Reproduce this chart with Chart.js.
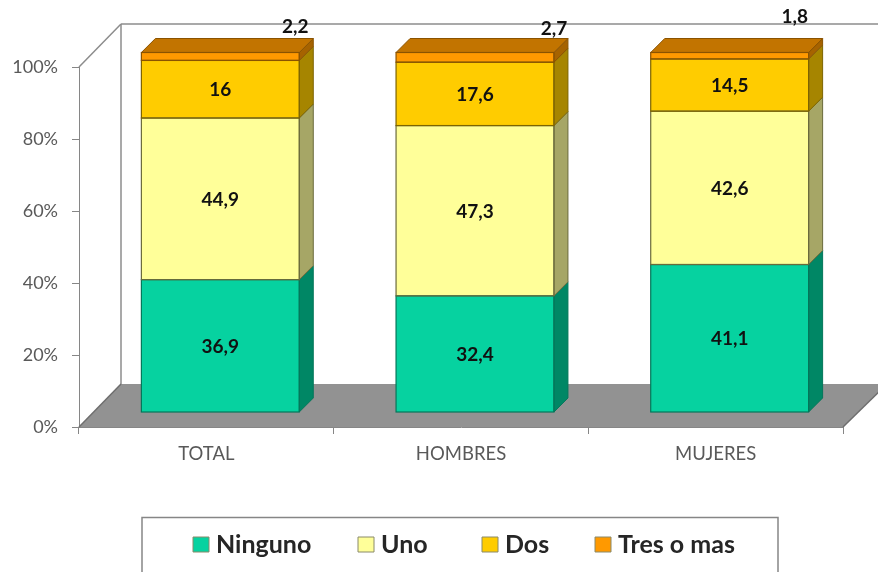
<!DOCTYPE html>
<html>
<head>
<meta charset="utf-8">
<style>
body { margin: 0; background: #fff; overflow: hidden; }
canvas { display: block; filter: blur(0.45px); }
</style>
<script src="https://cdn.jsdelivr.net/npm/chart.js@4/dist/chart.umd.js"></script>
</head>
<body>
<canvas id="canvasGrafico" width="878" height="572"></canvas>
<script>
var categorias = ['TOTAL', 'HOMBRES', 'MUJERES']
var ninguno = [36.9, 32.4, 41.1]
var uno = [44.9, 47.3, 42.6]
var dos = [16, 17.6, 14.5]
var tresOMas = [2.2, 2.7, 1.8]

var series = ['Ninguno', 'Uno', 'Dos', 'Tres o mas']
var coloresFrente = ['#06d2a0', '#ffff99', '#ffcc00', '#ff9900']
var coloresBorde = ['#04775a', '#6b6b3c', '#7d6400', '#8a5300']
var coloresLado = ['#008765', '#a6a666', '#a68500', '#a66300']
var colorTecho = '#c27400'
var colorPiso = '#929292'
var colorEje = '#868686'
var colorTexto = '#595959'
var fuente = 'Lato, Carlito, sans-serif'

// desplazamiento del plano de las barras y del fondo respecto al eje
var planoX = 14, planoY = -14.5
var fondoX = 42, fondoY = -43
var prof = 14

// la etiqueta de la serie de arriba queda fuera de la barra en el original
var topeDx = [75, 79, 65]
var topeDy = [-26, -24, -36]

var leyendaX = [193, 358, 482, 595]

function poligono(ctx, puntos, relleno, borde){
    ctx.beginPath()
    puntos.forEach(function(p, i){
        if(i == 0) ctx.moveTo(p[0], p[1])
        else ctx.lineTo(p[0], p[1])
    })
    ctx.closePath()
    ctx.fillStyle = relleno
    ctx.fill()
    if(borde){
        ctx.strokeStyle = borde
        ctx.lineWidth = 1
        ctx.stroke()
    }
}

function linea(ctx, x1, y1, x2, y2){
    ctx.beginPath()
    ctx.moveTo(x1, y1)
    ctx.lineTo(x2, y2)
    ctx.stroke()
}

var plugin3d = {
    id: 'plugin3d',
    beforeDatasetsDraw: function(chart){
        var ctx = chart.ctx
        var a = chart.chartArea

        // piso
        poligono(ctx, [
            [a.left, a.bottom],
            [a.left + fondoX, a.bottom + fondoY],
            [a.right + fondoX + 2, a.bottom + fondoY],
            [a.right, a.bottom]
        ], colorPiso)

        // paredes
        ctx.strokeStyle = '#8c8c8c'
        ctx.lineWidth = 1.5
        linea(ctx, a.left, a.top, a.left + fondoX, a.top + fondoY)
        linea(ctx, a.left + fondoX, a.top + fondoY, 878, a.top + fondoY)
        linea(ctx, a.left + fondoX, a.top + fondoY, a.left + fondoX, a.bottom + fondoY)
        ctx.strokeStyle = '#6e6e6e'
        linea(ctx, a.left, a.bottom, a.left + fondoX, a.bottom + fondoY)
        linea(ctx, a.right, a.bottom, a.right + fondoX + 2, a.bottom + fondoY)

        ctx.save()
        ctx.translate(planoX, planoY)
    },
    afterDatasetsDraw: function(chart){
        var ctx = chart.ctx

        chart.data.datasets.forEach(function(ds, i){
            chart.getDatasetMeta(i).data.forEach(function(el){
                var der = el.x + el.width / 2
                var izq = el.x - el.width / 2
                poligono(ctx, [
                    [der, el.y],
                    [der + prof, el.y - prof],
                    [der + prof, el.base - prof],
                    [der, el.base]
                ], coloresLado[i], coloresBorde[i])
                if(i == chart.data.datasets.length - 1){
                    poligono(ctx, [
                        [izq, el.y],
                        [izq + prof, el.y - prof],
                        [der + prof, el.y - prof],
                        [der, el.y]
                    ], colorTecho, coloresBorde[i])
                }
                // contorno del frente, nítido sobre cada segmento
                ctx.strokeStyle = coloresBorde[i]
                ctx.lineWidth = 1.2
                ctx.strokeRect(izq, el.y, el.width, el.base - el.y)
            })
        })

        // etiquetas de valores
        ctx.fillStyle = '#111111'
        ctx.font = 'bold 19px ' + fuente
        ctx.textAlign = 'center'
        ctx.textBaseline = 'middle'
        chart.data.datasets.forEach(function(ds, i){
            chart.getDatasetMeta(i).data.forEach(function(el, j){
                var texto = String(ds.data[j]).replace('.', ',')
                if(i == chart.data.datasets.length - 1){
                    ctx.fillText(texto, el.x + topeDx[j], el.y + topeDy[j])
                } else {
                    ctx.fillText(texto, el.x, (el.y + el.base) / 2 + 1)
                }
            })
        })

        ctx.restore()
    },
    afterDraw: function(chart){
        var ctx = chart.ctx

        // caja de la leyenda, cortada abajo como en el original
        ctx.strokeStyle = colorEje
        ctx.lineWidth = 1.5
        ctx.beginPath()
        ctx.moveTo(142, 572)
        ctx.lineTo(142, 517.5)
        ctx.lineTo(778, 517.5)
        ctx.lineTo(778, 572)
        ctx.stroke()

        ctx.font = 'bold 25px ' + fuente
        ctx.textAlign = 'left'
        ctx.textBaseline = 'middle'
        chart.data.datasets.forEach(function(ds, i){
            poligono(ctx, [
                [leyendaX[i], 537],
                [leyendaX[i] + 16, 537],
                [leyendaX[i] + 16, 552],
                [leyendaX[i], 552]
            ], ds.backgroundColor, '#8a8a6a')
            ctx.fillStyle = '#262626'
            ctx.fillText(ds.label, leyendaX[i] + 23, 545)
        })
    }
}

var valores = [ninguno, uno, dos, tresOMas]
var datasets = []
series.forEach(function(nombre, i){
    datasets.push({
        label: nombre,
        data: valores[i],
        backgroundColor: coloresFrente[i],
        borderWidth: 0,
        barPercentage: 0.62,
        categoryPercentage: 1,
        clip: false
    })
})

var chart = new Chart(document.getElementById('canvasGrafico').getContext('2d'), {
    type: 'bar',
    data: { labels: categorias, datasets: datasets },
    options: {
        responsive: false,
        animation: false,
        layout: { padding: { top: 67, right: 35, bottom: 0, left: 0 } },
        plugins: {
            legend: { display: false },
            tooltip: { enabled: false }
        },
        scales: {
            x: {
                stacked: true,
                afterFit: function(scale){ scale.height = 145 },
                border: { color: colorEje },
                grid: { drawOnChartArea: false, offset: true, tickLength: 7, color: colorEje },
                ticks: {
                    color: colorTexto,
                    font: { family: fuente, size: 18.5 },
                    padding: 9,
                    maxRotation: 0
                }
            },
            y: {
                stacked: true,
                min: 0,
                max: 100,
                afterFit: function(scale){ scale.width = 79 },
                border: { color: colorEje },
                grid: { drawOnChartArea: false, tickLength: 7, color: colorEje },
                ticks: {
                    stepSize: 20,
                    color: colorTexto,
                    font: { family: fuente, size: 18 },
                    padding: 14,
                    callback: function(v){ return v + '%' }
                }
            }
        }
    },
    plugins: [plugin3d]
})
</script>
</body>
</html>
